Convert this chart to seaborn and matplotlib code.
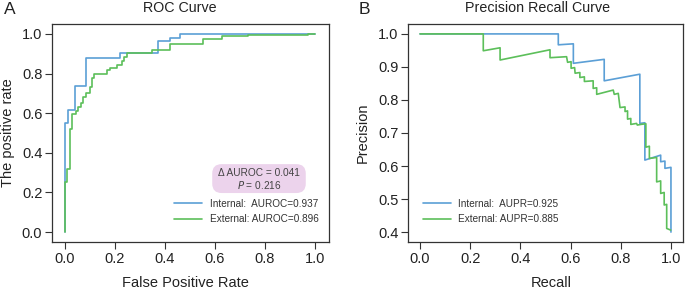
import numpy as np
import pandas as pd
import matplotlib
matplotlib.use('Agg')
import matplotlib.pyplot as plt
import seaborn as sns

# ---- data ----
# ROC corners (steps-post): fpr where tpr jumps, tpr after the jump
roc_int_fpr = [0.0, 0.0, 0.012, 0.040, 0.084, 0.220, 0.372, 0.420, 0.460, 1.0]
roc_int_tpr = [0.0, 0.55, 0.616, 0.737, 0.877, 0.902, 0.963, 0.981, 1.0, 1.0]

roc_ext_fpr = [0.0, 0.0, 0.009, 0.020, 0.028, 0.043, 0.053, 0.064, 0.073, 0.083,
               0.100, 0.109, 0.117, 0.127, 0.167, 0.180, 0.207, 0.227, 0.237, 0.247,
               0.347, 0.420, 0.553, 0.627, 0.733, 0.973, 1.0]
roc_ext_tpr = [0.0, 0.254, 0.320, 0.519, 0.594, 0.611, 0.633, 0.650, 0.683, 0.700,
               0.734, 0.776, 0.796, 0.800, 0.818, 0.830, 0.843, 0.864, 0.885, 0.902,
               0.919, 0.948, 0.973, 0.987, 0.993, 1.0, 1.0]

# PR curves (vertices joined by straight segments)
pr_int_recall = [0.0, 0.551, 0.551, 0.611, 0.611, 0.734, 0.734, 0.876, 0.876,
                 0.896, 0.896, 0.959, 0.959, 0.976, 0.976, 1.0, 1.0]
pr_int_prec = [1.0, 1.0, 0.967, 0.970, 0.911, 0.923, 0.858, 0.878, 0.729,
               0.731, 0.618, 0.633, 0.613, 0.615, 0.593, 0.596, 0.400]

pr_ext_recall = [0.0, 0.252, 0.252, 0.319, 0.319, 0.518, 0.518, 0.584, 0.588,
                 0.602, 0.602, 0.616, 0.618, 0.637, 0.637, 0.655, 0.655, 0.690,
                 0.690, 0.704, 0.704, 0.770, 0.774, 0.790, 0.797, 0.817, 0.817,
                 0.827, 0.827, 0.840, 0.840, 0.863, 0.866, 0.880, 0.900, 0.900,
                 0.914, 0.914, 0.943, 0.943, 0.959, 0.959, 0.973, 0.973, 0.983,
                 0.983, 0.999]
pr_ext_prec = [1.0, 1.0, 0.949, 0.958, 0.921, 0.952, 0.928, 0.931, 0.914,
               0.916, 0.896, 0.898, 0.881, 0.883, 0.868, 0.870, 0.856, 0.858,
               0.835, 0.837, 0.817, 0.830, 0.817, 0.820, 0.777, 0.779, 0.765,
               0.767, 0.742, 0.744, 0.726, 0.729, 0.724, 0.726, 0.728, 0.657,
               0.660, 0.623, 0.626, 0.552, 0.555, 0.517, 0.520, 0.482, 0.484,
               0.411, 0.406]

roc_labels = ['Internal:  AUROC=0.937', 'External: AUROC=0.896']
pr_labels = ['Internal:  AUPR=0.925', 'External: AUPR=0.885']
delta_text = '\u0394 AUROC = 0.041'
p_value = '0.216'

c_int = '#5b9fd6'
c_ext = '#5cbf5a'
txt = '#222222'

sns.set_style('ticks')
plt.rcParams['font.family'] = ['Liberation Sans', 'DejaVu Sans']
plt.rcParams['axes.edgecolor'] = '#333333'
plt.rcParams['xtick.color'] = '#333333'
plt.rcParams['ytick.color'] = '#333333'
plt.rcParams['xtick.labelcolor'] = txt
plt.rcParams['ytick.labelcolor'] = txt

fig = plt.figure(figsize=(6.85, 2.89), dpi=100)
ax1 = fig.add_axes([52 / 685, 47 / 289, 277 / 685, 218 / 289])
ax2 = fig.add_axes([408 / 685, 47 / 289, 275 / 685, 218 / 289])

# ---- ROC ----
sns.lineplot(x=roc_int_fpr, y=roc_int_tpr, ax=ax1, color=c_int, lw=1.2,
             drawstyle='steps-post', estimator=None, sort=False, label=roc_labels[0])
sns.lineplot(x=roc_ext_fpr, y=roc_ext_tpr, ax=ax1, color=c_ext, lw=1.2,
             drawstyle='steps-post', estimator=None, sort=False, label=roc_labels[1])
ax1.set_xlim(-0.052, 1.056)
ax1.set_ylim(-0.05, 1.05)
ax1.set_xticks(np.arange(0, 1.01, 0.2))
ax1.set_yticks(np.arange(0, 1.01, 0.2))
ax1.set_xlabel('False Positive Rate', fontsize=10.5, color=txt)
ax1.set_ylabel('The positive rate', fontsize=10.5, color=txt)
ax1.yaxis.set_label_coords(-0.132, 0.5)
ax1.xaxis.set_label_coords(0.48, -0.158)
ax1.legend(loc='lower right', frameon=False, fontsize=7.2, handlelength=2.8,
           handletextpad=0.8, labelspacing=0.55, bbox_to_anchor=(0.995, 0.04),
           labelcolor='#333333')
ax1.text(0.776, 0.296, delta_text, ha='center', va='center', fontsize=7.3, color='#444444')
ax1.text(0.776, 0.237, '$P$ = ' + p_value, ha='center', va='center', fontsize=7.3, color='#444444')
ax1.text(0.776, 0.27, ' ' * 30 + '\n', ha='center', va='center', fontsize=7.5, color='none',
         bbox=dict(boxstyle='round,pad=0.35,rounding_size=0.9', fc='#ecd3ec', ec='none'),
         zorder=1)

# ---- PR ----
sns.lineplot(x=pr_int_recall, y=pr_int_prec, ax=ax2, color=c_int, lw=1.2,
             estimator=None, sort=False, label=pr_labels[0])
sns.lineplot(x=pr_ext_recall, y=pr_ext_prec, ax=ax2, color=c_ext, lw=1.2,
             estimator=None, sort=False, label=pr_labels[1])
ax2.set_xlim(-0.048, 1.048)
ax2.set_ylim(0.37, 1.03)
ax2.set_xticks(np.arange(0, 1.01, 0.2))
ax2.set_yticks(np.arange(0.4, 1.01, 0.1))
ax2.set_xlabel('Recall', fontsize=10.5, color=txt)
ax2.set_ylabel('Precision', fontsize=10.5, color=txt)
ax2.yaxis.set_label_coords(-0.138, 0.5)
ax2.xaxis.set_label_coords(0.52, -0.158)
ax2.legend(loc='lower left', frameon=False, fontsize=7.2, handlelength=2.8,
           handletextpad=0.8, labelspacing=0.55, bbox_to_anchor=(0.02, 0.04),
           labelcolor='#333333')

for ax in (ax1, ax2):
    ax.tick_params(axis='both', labelsize=10.5, length=5, width=0.8, pad=2)
    for s in ax.spines.values():
        s.set_visible(True)
        s.set_linewidth(0.9)

fig.text(180 / 685, 1 - 8 / 289, 'ROC Curve', ha='center', va='center', fontsize=10.3, color=txt)
fig.text(538 / 685, 1 - 8 / 289, 'Precision Recall Curve', ha='center', va='center', fontsize=10.3, color=txt)
fig.text(10 / 685, 1 - 10 / 289, 'A', ha='center', va='center', fontsize=12.5, color=txt)
fig.text(364 / 685, 1 - 10 / 289, 'B', ha='center', va='center', fontsize=12.5, color=txt)

fig.savefig('out.png', dpi=100)
